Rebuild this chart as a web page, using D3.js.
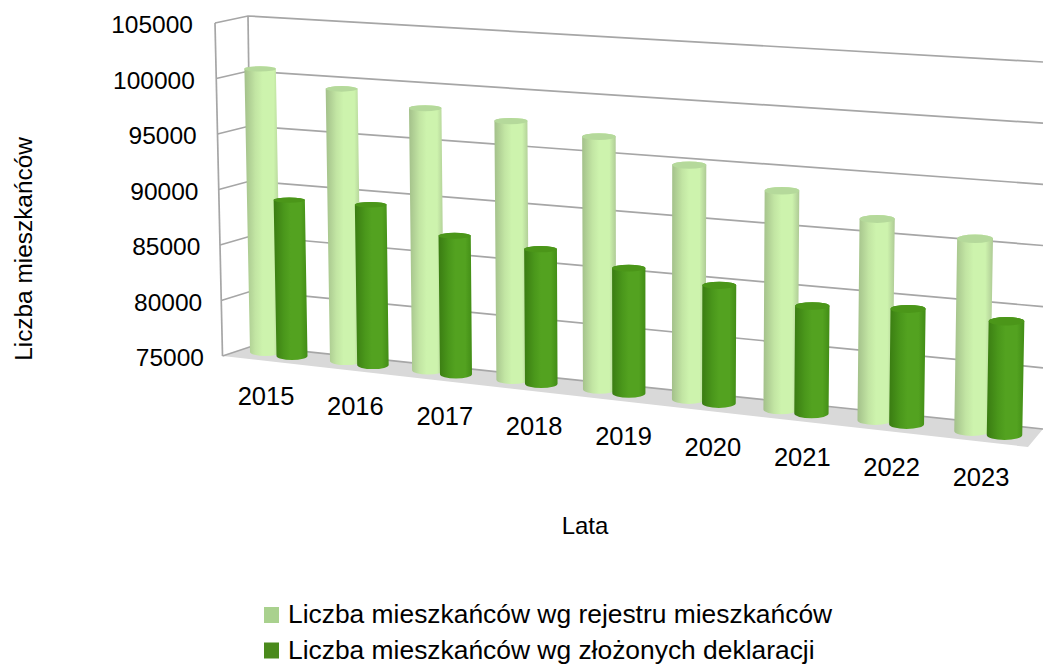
<!DOCTYPE html>
<html>
<head>
<meta charset="utf-8">
<script src="https://cdn.jsdelivr.net/npm/d3@7"></script>
<style>
  html, body { margin: 0; padding: 0; background: #fff; }
  svg { display: block; }
  text { font-family: "Liberation Sans", Arial, sans-serif; fill: #000; }
</style>
</head>
<body>
<svg id="chart" width="1043" height="665"></svg>
<script>
var years = [2015, 2016, 2017, 2018, 2019, 2020, 2021, 2022, 2023];
var rejestr = [100500, 99200, 98000, 97400, 96600, 94750, 93200, 91500, 90550];
var deklaracje = [89050, 89250, 87150, 86650, 85700, 84950, 83950, 84450, 84200];
var valueTicks = [75000, 80000, 85000, 90000, 95000, 100000, 105000];
var seriesNames = ["Liczba mieszkańców wg rejestru mieszkańców", "Liczba mieszkańców wg złożonych deklaracji"];

var svg = d3.select("#chart");
var minV = 75000, maxV = 105000;

// wall lines: left edge of the side wall, back-left corner, back-right corner
var yFront = d3.scaleLinear().domain([minV, maxV]).range([356, 23]);
var yBackL = d3.scaleLinear().domain([minV, maxV]).range([346, 16]);
var yBackR = d3.scaleLinear().domain([minV, maxV]).range([429, 62]);
var xFront = d3.scaleLinear().domain([minV, maxV]).range([222.5, 215]);
var xBackL = d3.scaleLinear().domain([minV, maxV]).range([252.5, 248]);

var t = d3.scaleLinear().domain([0, years.length - 1]).range([0, 1]);
// spacing of the columns grows to the right (3d perspective)
function persp(i) {
    var v = t(i);
    return v / (1 + 0.115 * (1 - v));
}
var xBar = d3.scaleLinear().domain([0, 1]).range([265.5, 972]);
var yBar = d3.scaleLinear().domain([0, 1]).range([352, 431]);
var plane = d3.scaleLinear().domain([0, 1]).range([333, 371]);
var barW = d3.scaleLinear().domain([0, 1]).range([31, 35.5]);
var depthX = d3.scaleLinear().domain([0, 1]).range([26.5, 32.5]);
var ratio = d3.scaleLinear().domain([minV, maxV]).range([0, 1]);
var vpX = 650, vpY = 20600; // columns converge far below the chart

function lean(x, yBase, y) {
    return x + (x - vpX) * (yBase - y) / (vpY - yBase);
}

var defs = svg.append("defs");
function gradient(id, edge, near, mid, edge2) {
    var g = defs.append("linearGradient").attr("id", id);
    g.append("stop").attr("offset", "0%").attr("stop-color", edge);
    g.append("stop").attr("offset", "30%").attr("stop-color", near);
    g.append("stop").attr("offset", "50%").attr("stop-color", mid);
    g.append("stop").attr("offset", "80%").attr("stop-color", mid);
    g.append("stop").attr("offset", "100%").attr("stop-color", edge2);
}
gradient("lightBar", "#a3c08a", "#c2e5a3", "#cdf3ad", "#aeca95");
gradient("darkBar", "#3a7c12", "#4a971b", "#53a220", "#428d16");

// floor
svg.append("polygon")
    .attr("points", [
        [xFront(minV), yFront(minV)],
        [xBackL(minV), yBackL(minV)],
        [1043, yBackR(minV)],
        [1028, 447]
    ].join(" "))
    .attr("fill", "#d9d9d9");

// walls
var grid = svg.append("g")
    .attr("fill", "none")
    .attr("stroke", "#a6a6a6")
    .attr("stroke-width", 1.7);

valueTicks.forEach(function (v) {
    grid.append("polyline")
        .attr("points", [
            [xFront(v), yFront(v)],
            [xBackL(v), yBackL(v)],
            [1043, yBackR(v)]
        ].join(" "));
});
grid.append("line")
    .attr("x1", xFront(minV)).attr("y1", yFront(minV))
    .attr("x2", xFront(maxV)).attr("y2", yFront(maxV));
grid.append("line")
    .attr("x1", xBackL(minV)).attr("y1", yBackL(minV))
    .attr("x2", xBackL(maxV)).attr("y2", yBackL(maxV));

// cylinders
function cylinder(i, value, shiftX, shiftY, gradId, topColor) {
    var f = persp(i);
    var cx = xBar(f) + shiftX * depthX(f);
    var base = yBar(f) + shiftY;
    var top = base - ratio(value) * plane(f);
    var r = barW(f) / 2;
    var rb = 4 + f;
    var rt = 2.6 + 1.6 * f;
    var xl = lean(cx - r, base, top), xr = lean(cx + r, base, top);

    var d = "M" + xl + "," + top
        + "L" + (cx - r) + "," + base
        + "A" + r + "," + rb + " 0 0 0 " + (cx + r) + "," + base
        + "L" + xr + "," + top
        + "A" + ((xr - xl) / 2) + "," + rt + " 0 0 0 " + xl + "," + top + "Z";
    svg.append("path").attr("d", d).attr("fill", "url(#" + gradId + ")");
    svg.append("ellipse")
        .attr("cx", (xl + xr) / 2).attr("cy", top)
        .attr("rx", (xr - xl) / 2).attr("ry", rt)
        .attr("fill", topColor);
}

years.forEach(function (y, i) {
    cylinder(i, rejestr[i], 0, 0, "lightBar", "#b5d99b");
    cylinder(i, deklaracje[i], 1, 4, "darkBar", "#4b9619");
});

// value axis, the labels drift right towards the floor
var yLabels = d3.scaleLinear().domain([minV, maxV]).range([358, 25]);
var xLabelEnd = d3.scaleLinear().domain([minV, maxV]).range([204, 193]);
var yAxis = svg.append("g")
    .call(d3.axisLeft(yLabels).tickValues(valueTicks).tickSize(0).tickPadding(0).tickFormat(d3.format("d")));
yAxis.select(".domain").remove();
yAxis.selectAll("text")
    .attr("x", function (d) { return xLabelEnd(d); })
    .style("font-size", "24.5px")
    .style("font-family", '"Liberation Sans"')
    .attr("fill", "#000");

// year labels step along the floor edge
var xLabels = d3.scalePoint().domain(years).range([266, 981]);
var yYear = d3.scalePoint().domain(years).range([396, 477]);
svg.append("g").selectAll("text")
    .data(years)
    .enter()
    .append("text")
    .attr("x", function (d) { return xLabels(d); })
    .attr("y", function (d) { return yYear(d); })
    .attr("dy", "0.35em")
    .attr("text-anchor", "middle")
    .style("font-size", "25.5px")
    .text(function (d) { return d; });

// axis titles
svg.append("text")
    .attr("x", 585).attr("y", 534)
    .attr("text-anchor", "middle")
    .style("font-size", "24px")
    .text("Lata");

svg.append("text")
    .attr("transform", "translate(32,249)rotate(-90)")
    .attr("text-anchor", "middle")
    .style("font-size", "24.4px")
    .text("Liczba mieszkańców");

// legend
var legendColors = ["#a9d18e", "#4a8a1c"];
var legendY = d3.scalePoint().domain(seriesNames).range([614, 649.5]);
var legend = svg.append("g").selectAll("g")
    .data(seriesNames)
    .enter()
    .append("g")
    .attr("transform", function (d) { return "translate(264," + legendY(d) + ")"; });
legend.append("rect")
    .attr("x", 0).attr("y", -7)
    .attr("width", 15).attr("height", 16)
    .attr("fill", function (d, i) { return legendColors[i]; });
legend.append("text")
    .attr("x", 24).attr("dy", "0.35em")
    .style("font-size", "26.4px")
    .text(function (d) { return d; });
</script>
</body>
</html>
